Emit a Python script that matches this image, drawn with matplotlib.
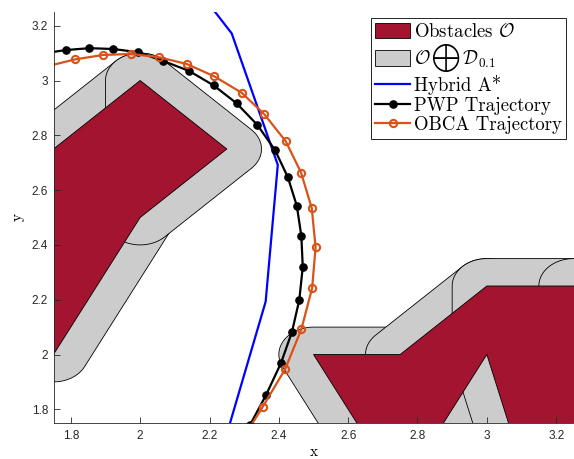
import numpy as np
import matplotlib
matplotlib.use("Agg")
import matplotlib.pyplot as plt
from matplotlib.patches import Polygon, Patch
from matplotlib.lines import Line2D

plt.rcParams['mathtext.fontset'] = 'cm'

# ---------------- data ----------------
radius = 0.1

left_pieces = [
    [(1.5, 2.0), (1.75, 2.0), (2.0, 2.5), (2.0, 3.0), (1.5, 2.5)],
    [(2.0, 2.5), (2.25, 2.75), (2.0, 3.0)],
]
left_outline = [(1.5, 2.0), (1.75, 2.0), (2.0, 2.5), (2.25, 2.75), (2.0, 3.0), (1.5, 2.5)]

right_pieces = [
    [(2.5, 2.0), (2.75, 1.5), (2.75, 2.0)],
    [(2.75, 1.5), (3.0, 2.0), (3.0, 2.25), (2.75, 2.0)],
    [(3.0, 2.0), (3.125, 1.5), (3.25, 1.5), (3.25, 2.25), (3.0, 2.25)],
    [(3.25, 1.5), (3.5, 1.5), (3.5, 2.25), (3.25, 2.25)],
]
right_outline = [(2.5, 2.0), (2.75, 1.5), (3.0, 2.0), (3.125, 1.5), (3.5, 1.5),
                 (3.5, 2.25), (3.0, 2.25), (2.75, 2.0)]

hybrid_x = [2.200, 2.218, 2.264, 2.397, 2.362, 2.259, 2.250]
hybrid_y = [3.275, 3.247, 3.172, 2.692, 2.193, 1.749, 1.720]

pwp_x = [1.716, 1.785, 1.853, 1.922, 1.995, 2.067, 2.141, 2.212, 2.278, 2.338, 2.389,
         2.426, 2.452, 2.465, 2.469, 2.459, 2.438, 2.406, 2.363, 2.317]
pwp_y = [3.098, 3.111, 3.118, 3.115, 3.103, 3.071, 3.035, 2.982, 2.917, 2.838, 2.746,
         2.647, 2.542, 2.432, 2.319, 2.199, 2.083, 1.968, 1.852, 1.743]

obca_x = [1.732, 1.812, 1.892, 1.973, 2.054, 2.135, 2.214, 2.293, 2.358, 2.420, 2.464,
          2.495, 2.506, 2.496, 2.465, 2.418, 2.354, 2.290]
obca_y = [3.052, 3.077, 3.093, 3.097, 3.085, 3.060, 3.015, 2.955, 2.877, 2.778, 2.664,
          2.534, 2.391, 2.242, 2.092, 1.946, 1.810, 1.680]

xticks = [1.8, 2.0, 2.2, 2.4, 2.6, 2.8, 3.0, 3.2]
xticklabels = ['1.8', '2', '2.2', '2.4', '2.6', '2.8', '3', '3.2']
yticks = [1.8, 2.0, 2.2, 2.4, 2.6, 2.8, 3.0, 3.2]
yticklabels = ['1.8', '2', '2.2', '2.4', '2.6', '2.8', '3', '3.2']

labels = [r'Obstacles $\mathcal{O}$',
          r'$\mathcal{O}\,\bigoplus\,\mathcal{D}_{0.1}$',
          'Hybrid A*', 'PWP Trajectory', 'OBCA Trajectory']

RED = (0.635, 0.078, 0.184)
GREY = (0.8, 0.8, 0.8)
ORANGE = (0.85, 0.325, 0.098)


def hull(points):
    pts = sorted(set(points))
    def cross(o, a, b):
        return (a[0] - o[0]) * (b[1] - o[1]) - (a[1] - o[1]) * (b[0] - o[0])
    lower, upper = [], []
    for p in pts:
        while len(lower) >= 2 and cross(lower[-2], lower[-1], p) <= 0:
            lower.pop()
        lower.append(p)
    for p in reversed(pts):
        while len(upper) >= 2 and cross(upper[-2], upper[-1], p) <= 0:
            upper.pop()
        upper.append(p)
    return lower[:-1] + upper[:-1]


def minkowski(poly, r, n=180):
    t = np.linspace(0, 2 * np.pi, n, endpoint=False)
    pts = []
    for vx, vy in poly:
        pts += [(round(vx + r * c, 9), round(vy + r * s, 9)) for c, s in zip(np.cos(t), np.sin(t))]
    return hull(pts)


fig = plt.figure(figsize=(5.74, 4.59), dpi=100)
ax = fig.add_axes([53.5 / 574, 36 / 459, 520 / 574, 411 / 459])

for piece in left_pieces + right_pieces:
    ax.add_patch(Polygon(minkowski(piece, radius), closed=True, facecolor=GREY,
                         edgecolor='black', linewidth=0.6))
for outline in (left_outline, right_outline):
    ax.add_patch(Polygon(outline, closed=True, facecolor=RED, edgecolor='black', linewidth=0.6))

ax.plot(hybrid_x, hybrid_y, color='blue', lw=1.6)
ax.plot(pwp_x, pwp_y, color='black', lw=1.6, marker='o', ms=5.2, mfc='black', mec='black')
ax.plot(obca_x, obca_y, color=ORANGE, lw=1.6, marker='o', ms=5.2, mfc='none', mec=ORANGE, mew=1.5)

ax.set_xlim(1.75, 3.25)
ax.set_ylim(1.75, 3.25)
ax.set_xticks(xticks)
ax.set_xticklabels(xticklabels)
ax.set_yticks(yticks)
ax.set_yticklabels(yticklabels)
for lab in ax.get_xticklabels() + ax.get_yticklabels():
    lab.set_family('Liberation Sans')
ax.tick_params(direction='in', length=4.5, width=0.6, labelsize=8.5,
               color=(0.15, 0.15, 0.15), labelcolor=(0.15, 0.15, 0.15))
ax.tick_params(axis='x', pad=5)
ax.tick_params(axis='y', pad=4)
ax.spines['top'].set_visible(False)
ax.spines['right'].set_visible(False)
for s in ('left', 'bottom'):
    ax.spines[s].set_linewidth(0.6)
    ax.spines[s].set_color((0.15, 0.15, 0.15))

ax.set_xlabel('x', fontsize=11, family='cmr10')
ax.xaxis.set_label_coords(0.5, -0.053)
ax.set_ylabel('y', fontsize=11, family='cmr10')
ax.yaxis.set_label_coords(-0.055, 0.5)

handles = [Patch(facecolor=RED, edgecolor='black', linewidth=0.6),
           Patch(facecolor=GREY, edgecolor='black', linewidth=0.6),
           Line2D([], [], color='blue', lw=1.6),
           Line2D([], [], color='black', lw=1.6, marker='o', ms=5.2),
           Line2D([], [], color=ORANGE, lw=1.6, marker='o', ms=5.2, mfc='none', mew=1.5)]
leg = ax.legend(handles, labels, loc='upper right', bbox_to_anchor=(0.986, 0.985),
                borderaxespad=0, prop={'family': 'cmr10', 'size': 13.5},
                handlelength=1.85, handleheight=0.9, handletextpad=0.2,
                borderpad=0.25, labelspacing=0.06, fancybox=False, framealpha=1,
                edgecolor='black')
leg.get_frame().set_linewidth(0.6)

fig.savefig('out.png', dpi=100)
